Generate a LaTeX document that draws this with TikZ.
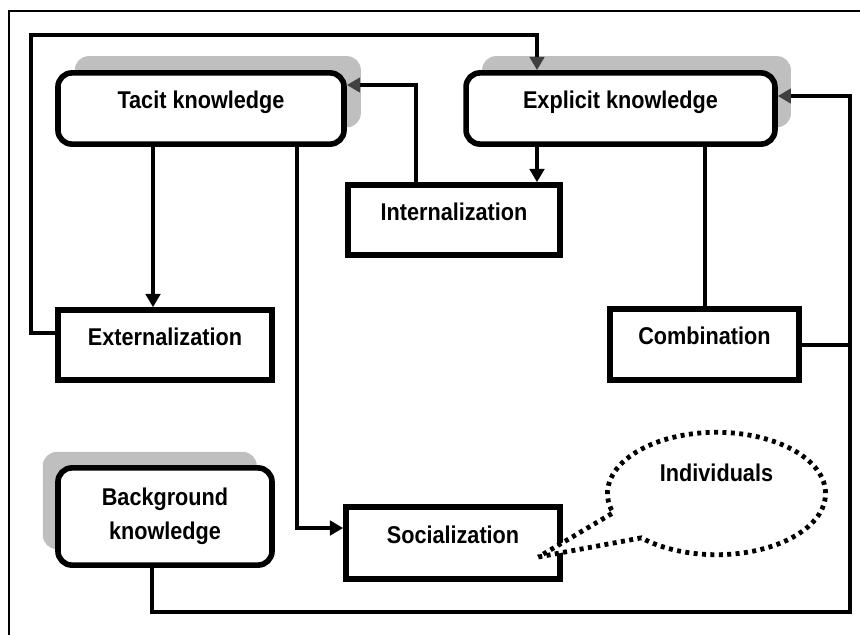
\documentclass[tikz,border=0pt]{standalone}
\usepackage{fontspec}
\setmainfont{Liberation Sans}
\usepackage{tikz}
\usetikzlibrary{shapes.geometric, shapes.callouts, arrows.meta, positioning, calc, shadows}
\newcommand{\tall}[1]{\scalebox{1}[1.12]{#1}}
\tikzstyle{knowledge} = [rectangle, rounded corners=0.35cm, line width=0.14cm, draw=black, fill=white, text centered, font=\bfseries\fontsize{15.4}{24}\selectfont]
\tikzstyle{phase} = [rectangle, line width=0.14cm, draw=black, fill=white, text centered, text height=0.35cm, text depth=0.35cm, font=\bfseries\fontsize{15.4}{24}\selectfont]
\tikzstyle{line} = [line width=0.1cm]
\tikzstyle{arrow} = [line width=0.1cm, -{Triangle[length=0.33cm, width=0.36cm]}]
\tikzstyle{grayarrow} = [line width=0.1cm, -{Triangle[length=0.33cm, width=0.36cm, color=black!75]}]
\tikzstyle{note} = [ellipse callout, line width=0.12cm, dash pattern=on 0.1cm off 0.11cm, draw=black, fill=white, callout pointer arc=28, text height=0.3cm, text depth=0.92cm, font=\bfseries\fontsize{15.4}{24}\selectfont]

\begin{document}
\begin{tikzpicture}[x=0.025cm, y=-0.025cm]
\useasboundingbox (0,0) rectangle (860,634);
\clip (0,0) rectangle (860,634);
\draw [line width=0.06cm] (9,11) rectangle (880,660);

\node (tacit) [knowledge, minimum width=7.15cm, minimum height=1.78cm, text height=0.35cm, text depth=0.35cm,
  drop shadow={shadow xshift=0.42cm, shadow yshift=0.42cm, fill=black!25, opacity=1}] at (201,108.5) {\tall{Tacit knowledge}};
\node (explicit) [knowledge, minimum width=7.72cm, minimum height=1.78cm, text height=0.35cm, text depth=0.35cm,
  drop shadow={shadow xshift=0.4cm, shadow yshift=0.42cm, fill=black!25, opacity=1}] at (620.5,108.5) {\tall{Explicit knowledge}};
\node (backg) [knowledge, minimum width=5.35cm, minimum height=2.43cm, align=center,
  drop shadow={shadow xshift=-0.38cm, shadow yshift=0.4cm, fill=black!25, opacity=1}] at (165,516.5) {\tall{Background}\\\tall{knowledge}};

\node (intern) [phase, minimum width=5.3cm, minimum height=1.75cm] at (454,220) {\tall{Internalization}};
\node (extern) [phase, minimum width=5.35cm, minimum height=1.75cm] at (165,345) {\tall{Externalization}};
\node (comb) [phase, minimum width=4.72cm, minimum height=1.78cm] at (704.5,344.5) {\tall{Combination}};
\node (social) [phase, minimum width=5.35cm, minimum height=1.8cm] at (453,543) {\tall{Socialization}};

\node (indiv) [note, minimum width=5.45cm, minimum height=3.06cm,
  callout absolute pointer={($(social.east)+(-24.5,14)$)}] at (716.5,493.5) {\tall{Individuals}};

\coordinate (rail) at ($(explicit.east)+(72.5,-12.5)$);

\draw [arrow] ($(tacit.south)+(-48,0)$) -- ($(extern.north)+(-12,0)$);
\draw [arrow] ($(tacit.south)+(96,0)$) |- ($(social.west)+(0,-15)$);
\draw [arrow] ($(explicit.south)+(-83.5,0)$) -- ($(intern.north)+(83,0)$);
\draw [grayarrow] ($(intern.north)+(-38,0)$) |- ($(tacit.east)+(0,-23.5)$);
\draw [grayarrow] ($(extern.west)+(0,-12)$) -- ++(-24.5,0) -- ++(0,-298) -| ($(explicit.north)+(-83.5,0)$);
\draw [line] (comb.north) -- (comb.north |- explicit.south);
\draw [line] (comb.east) -- (comb.east -| rail);
\draw [grayarrow] ($(backg.south)+(-13,0)$) |- ($(rail)+(0,516)$) -- (rail) -- ($(explicit.east)+(0,-12.5)$);

\end{tikzpicture}
\end{document}
